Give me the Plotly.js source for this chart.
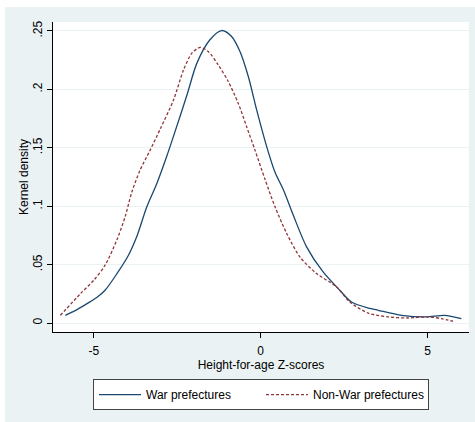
<!DOCTYPE html>
<html>
<head>
<meta charset="utf-8">
<script src="https://cdn.plot.ly/plotly-3.0.1.min.js"></script>
<style>
html,body{margin:0;padding:0;background:#ffffff;}
#chart{position:absolute;left:5px;top:7px;width:470px;height:415px;}
</style>
</head>
<body>
<div id="chart"></div>
<script>
// War prefectures kernel density
const warX = [-5.85,-5.5,-5.2,-4.9,-4.66,-4.31,-3.96,-3.71,-3.41,-3.11,-2.81,-2.61,-2.21,-1.91,-1.52,-1.17,-0.87,-0.62,-0.37,-0.12,0.18,0.43,0.68,0.975,1.375,1.87,2.37,2.72,3.27,3.52,4.22,4.96,5.51,6.01];
const warY = [0.0066,0.0115,0.0166,0.022,0.028,0.042,0.058,0.074,0.0995,0.1195,0.143,0.160,0.195,0.2225,0.2425,0.2504,0.2453,0.2324,0.211,0.1824,0.151,0.129,0.114,0.0924,0.0652,0.0437,0.028,0.018,0.0125,0.0109,0.0066,0.0052,0.0066,0.0037];
// Non-War prefectures kernel density
const nonWarX = [-6.0,-5.4,-5.0,-4.66,-4.31,-4.06,-3.86,-3.61,-3.31,-3.01,-2.61,-2.31,-2.06,-1.81,-1.57,-1.27,-0.97,-0.67,-0.42,-0.17,0.13,0.43,0.78,1.175,1.67,2.27,2.67,3.22,3.82,4.41,5.01,5.41,5.76];
const nonWarY = [0.0066,0.025,0.0366,0.0495,0.071,0.091,0.112,0.131,0.148,0.166,0.191,0.2167,0.231,0.236,0.2324,0.221,0.2067,0.188,0.168,0.148,0.123,0.0995,0.0767,0.0566,0.0424,0.031,0.018,0.0085,0.0052,0.0043,0.0052,0.0038,0.0015];
// Axis ticks
const xTicks = [-5, 0, 5];
const xTickText = ['-5', '0', '5'];
const yTicks = [0, 0.05, 0.1, 0.15, 0.2, 0.25];
const yTickText = ['0', '.05', '.1', '.15', '.2', '.25'];
const seriesNames = ['War prefectures', 'Non-War prefectures'];

const font = 'Liberation Sans, Arial, sans-serif';

const traces = [
  {x: warX, y: warY, type: 'scatter', mode: 'lines', name: seriesNames[0],
   line: {color: '#1a476f', width: 1.3, shape: 'spline', smoothing: 0.8}},
  {x: nonWarX, y: nonWarY, type: 'scatter', mode: 'lines', name: seriesNames[1],
   line: {color: '#90353b', width: 1.3, shape: 'spline', smoothing: 0.8, dash: '3px,2px'}}
];

const layout = {
  width: 470, height: 415,
  margin: {l: 48, r: 6, t: 15, b: 90},
  paper_bgcolor: '#eaf2f3',
  plot_bgcolor: '#ffffff',
  font: {family: font, size: 12, color: '#000000'},
  showlegend: true,
  xaxis: {
    range: [-6.22, 6.24],
    tickvals: xTicks, ticktext: xTickText,
    ticks: 'outside', ticklen: 5, tickwidth: 1, tickcolor: '#000000',
    ticklabelstandoff: 3,
    showgrid: false, zeroline: false,
    showline: true, linecolor: '#000000', linewidth: 1,
    tickfont: {size: 12},
    title: {text: 'Height-for-age Z-scores', font: {size: 12}, standoff: 2}
  },
  yaxis: {
    range: [-0.0077, 0.2577],
    tickvals: yTicks, ticktext: yTickText,
    tickangle: -90,
    ticks: 'outside', ticklen: 5, tickwidth: 1, tickcolor: '#000000',
    showgrid: true, gridcolor: '#eaf2f3', gridwidth: 1,
    zeroline: false,
    showline: true, linecolor: '#000000', linewidth: 1,
    tickfont: {size: 12},
    title: {text: 'Kernel density', font: {size: 12}, standoff: 0}
  },
  legend: {
    orientation: 'h',
    x: 0.5, xanchor: 'center',
    y: -0.152, yanchor: 'top',
    bgcolor: '#ffffff', bordercolor: '#444444', borderwidth: 1,
    font: {size: 12, color: '#000000'},
    itemwidth: 42,
    entrywidth: 110, entrywidthmode: 'pixels'
  }
};

Plotly.newPlot('chart', traces, layout, {displayModeBar: false, staticPlot: true});
</script>
</body>
</html>
